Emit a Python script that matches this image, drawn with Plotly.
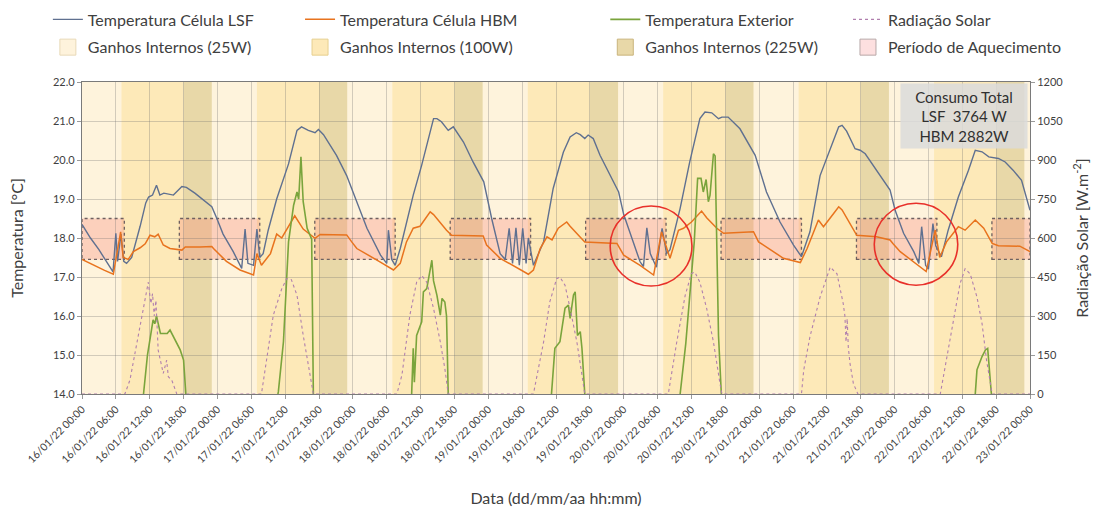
import pandas as pd
import plotly.graph_objects as go

START = pd.Timestamp("2022-01-16 00:00")
END = pd.Timestamp("2022-01-23 00:00")

# ---- data (hours since 16/01/22 00:00) ----
lsf_hours = [0, 1.5, 3, 4.5, 5.5, 6.0, 6.3, 6.9, 7.4, 7.9, 8.8, 10.3, 11.3, 11.8, 12.5, 13.2, 13.8, 14.5,
             15.6, 16.2, 17.7, 18.5, 20.0, 20.9, 22.2, 23.0, 23.9, 25.0, 26.8, 28.3, 28.9, 29.4, 30.4, 31.0,
             31.5, 32.1, 33.0, 34.5, 36.6, 38.1, 38.9, 40.1, 41.3, 41.9, 42.8, 45.1, 46.9, 48.7, 50.5, 52.9,
             54.0, 54.3, 54.9, 55.5, 56.4, 58.7, 60.2, 62.3, 62.9, 63.7, 64.9, 65.8, 67.6, 69.3, 71.2, 72.6,
             74.1, 75.0, 75.7, 76.3, 76.9, 77.5, 78.1, 78.7, 79.1, 80.0, 81.8, 83.5, 85.3, 86.5, 87.6, 88.3,
             89.1, 89.7, 90.6, 91.8, 93.6, 95.1, 96.0, 97.4, 98.9, 99.5, 100.1, 100.7, 101.5, 101.8, 102.8,
             103.6, 104.2, 106.0, 107.7, 109.5, 110.4, 111.6, 112.8, 113.4, 114.5, 116.6, 119.3, 121.3, 123.7,
             126.1, 127.5, 129.0, 130.8, 132.9, 134.1, 134.7, 135.5, 137.0, 137.9, 138.8, 140.8, 143.2, 144.1,
             145.6, 147.4, 148.3, 148.8, 149.5, 150.0, 150.8, 151.3, 152.3, 153.5, 155.3, 157.1, 158.3, 159.5,
             160.7, 162.4, 163.6, 165.0, 166.5, 168.0]
lsf_temp = [18.35, 18.0, 17.7, 17.35, 17.13, 18.12, 17.4, 18.1, 17.4, 17.35, 17.5, 18.3, 18.9, 19.05, 19.1,
            19.35, 19.1, 19.15, 19.12, 19.1, 19.32, 19.3, 19.15, 19.05, 18.9, 18.8, 18.5, 18.1, 17.65, 17.22,
            18.23, 17.35, 17.3, 18.23, 17.5, 17.6, 18.2, 19.0, 19.9, 20.76, 20.85, 20.76, 20.7, 20.78, 20.65,
            20.12, 19.6, 18.93, 18.25, 17.56, 17.35, 18.2, 17.45, 17.3, 17.73, 19.1, 19.87, 21.06, 21.06, 20.98,
            20.76, 20.85, 20.46, 19.95, 19.44, 18.5, 17.6, 17.45, 18.25, 17.35, 18.26, 17.3, 18.25, 17.35, 18.0,
            17.3, 17.9, 19.27, 20.2, 20.59, 20.7, 20.65, 20.55, 20.64, 20.55, 20.12, 19.6, 19.18, 18.6, 17.99,
            17.39, 17.27, 18.26, 17.6, 17.33, 17.25, 18.25, 17.6, 17.7, 18.76, 19.95, 21.06, 21.23, 21.21, 21.06,
            21.1, 21.1, 20.8, 20.12, 19.18, 18.41, 17.82, 17.52, 18.16, 19.6, 20.38, 20.85, 20.89, 20.74, 20.29,
            20.25, 20.16, 19.74, 19.23, 18.71, 18.12, 17.65, 17.35, 18.29, 17.3, 17.2, 18.37, 17.8, 17.52, 18.2,
            19.05, 19.74, 20.25, 20.21, 20.08, 20.04, 19.95, 19.74, 19.48, 18.71]

hbm_hours = [0, 2, 4, 5.55, 6.85, 7.3, 8.2, 9.1, 10.3, 11.2, 12.05, 12.9, 13.5, 14.4, 15.6, 17.7, 18.3, 20.9,
             23.0, 23.3, 25.6, 28.0, 30.4, 31.0, 31.8, 33.4, 34.5, 35.4, 37.7, 39.2, 40.4, 41.3, 42.2, 46.9,
             47.8, 48.7, 52.8, 55.2, 56.4, 57.5, 58.7, 59.9, 61.7, 62.3, 64.6, 65.5, 71.1, 71.7, 74.1, 76.4,
             79.1, 80.0, 81.2, 82.4, 83.3, 84.4, 85.9, 86.5, 89.1, 94.8, 96.0, 98.9, 101.3, 102.7, 104.2, 105.7,
             106.6, 108.0, 109.8, 110.7, 112.5, 113.7, 119.0, 119.9, 124.3, 127.3, 128.5, 130.5, 131.4, 133.2,
             134.1, 134.7, 137.3, 140.8, 143.2, 143.7, 145.0, 149.6, 151.2, 152.0, 153.2, 155.3, 156.5, 158.3,
             159.8, 161.3, 162.4, 166.2, 168.0]
hbm_temp = [17.45, 17.3, 17.17, 17.07, 18.16, 17.5, 17.45, 17.65, 17.75, 17.85, 18.07, 18.03, 18.1, 17.82,
            17.73, 17.69, 17.77, 17.77, 17.78, 17.73, 17.4, 17.18, 17.05, 17.6, 17.3, 17.6, 18.1, 18.0, 18.57,
            18.23, 18.09, 17.99, 18.09, 18.08, 17.9, 17.73, 17.39, 17.18, 17.35, 17.9, 18.25, 18.3, 18.67, 18.6,
            18.2, 18.07, 18.05, 17.82, 17.48, 17.3, 17.07, 17.18, 17.73, 18.03, 17.95, 18.25, 18.41, 18.3, 17.9,
            17.86, 17.56, 17.3, 17.05, 18.16, 17.48, 18.2, 18.25, 18.41, 18.69, 18.52, 18.25, 18.12, 18.16, 17.9,
            17.48, 17.37, 17.73, 18.46, 18.29, 18.63, 18.8, 18.72, 18.07, 18.03, 17.95, 17.86, 17.65, 17.14,
            18.2, 17.5, 17.9, 18.29, 18.2, 18.46, 18.25, 17.86, 17.8, 17.79, 17.65]

ext_hours = [0, 6, 10.0, 10.9, 11.6, 12.35, 12.6, 12.9, 13.2, 13.9, 15.1, 15.6, 16.2, 17.4, 18.0, 18.4, 19.5,
             24, 30, 33.5, 34.8, 35.7, 36.6, 37.5, 38.1, 38.4, 38.8, 39.2, 39.9, 40.4, 40.7, 41.0, 41.3, 48, 54,
             58.3, 58.7, 58.9, 59.3, 60.2, 60.5, 61.1, 61.7, 62.0, 62.3, 62.9, 63.5, 63.8, 64.3, 64.6, 64.9, 65.2,
             72, 78, 82.5, 83.2, 83.8, 84.7, 85.6, 86.2, 86.5, 87.1, 87.4, 87.8, 88.3, 88.6, 89.1, 89.5, 96, 102,
             105.5, 106.0, 107.0, 107.9, 108.5, 109.1, 109.7, 110.1, 110.6, 111.0, 111.3, 111.9, 112.2, 112.8,
             113.4, 113.8, 120, 130, 136, 144, 152, 157.5, 158.3, 158.6, 159.5, 160.1, 160.5, 160.9, 161.3, 162,
             168]
ext_temp = [12.0, 11.5, 13.0, 14.0, 15.0, 15.64, 15.9, 15.8, 16.0, 15.55, 15.55, 15.64, 15.47, 15.13, 14.87,
            14.0, 13.0, 12.0, 11.5, 13.0, 14.06, 15.34, 17.9, 18.84, 19.18, 19.0, 20.08, 18.93, 18.25, 18.1,
            17.97, 14.0, 12.5, 11.5, 11.0, 13.5, 15.17, 14.3, 15.5, 15.85, 16.62, 16.7, 17.13, 17.43, 16.9,
            16.53, 16.02, 16.45, 16.36, 16.0, 14.0, 12.5, 11.5, 11.0, 13.0, 14.0, 15.17, 15.34, 16.2, 16.28,
            15.94, 16.54, 16.62, 15.5, 15.6, 15.17, 14.0, 12.8, 11.8, 11.5, 13.0, 14.0, 15.3, 16.88, 17.9,
            19.53, 19.53, 19.18, 19.5, 18.93, 19.1, 20.16, 20.1, 15.5, 14.0, 12.5, 11.0, 12.0, 13.0, 11.5,
            11.0, 13.0, 14.0, 14.62, 14.96, 15.13, 15.17, 14.6, 14.0, 12.5, 11.5]

rad_hours = [0, 7.6, 8.5, 9.7, 10.9, 11.75, 12.2, 12.5, 12.8, 13.1, 13.5, 14.4, 15.0, 15.3, 15.9, 16.8,
             31.8, 32.7, 33.9, 35.4, 36.3, 37.1, 38.1, 39.2, 40.4, 41.0,
             55.8, 56.7, 58.1, 59.3, 60.2, 61.1, 62.3, 63.5, 64.3, 64.9,
             80.0, 81.8, 82.9, 84.1, 84.7, 85.6, 86.5, 87.7, 88.6, 89.1,
             103.9, 105.4, 106.9, 108.0, 108.6, 109.5, 110.7, 111.9, 113.1, 113.4,
             127.5, 127.9, 129.0, 130.8, 132.6, 133.8, 134.9, 135.2, 135.4, 135.6, 135.8, 136.1, 136.7, 137.5,
             152.1, 153.2, 154.4, 155.6, 156.5, 157.4, 158.6, 159.5, 160.3, 161.3, 168]
rad_wm2 = [0, 0, 54, 195, 322, 430, 348, 386, 300, 360, 169, 79, 130, 66, 54, 0,
           0, 137, 303, 405, 444, 440, 380, 226, 73, 0,
           0, 73, 303, 430, 456, 430, 329, 200, 98, 0,
           0, 200, 354, 443, 450, 418, 329, 200, 73, 0,
           0, 200, 380, 463, 469, 430, 329, 200, 35, 0,
           0, 92, 220, 373, 488, 462, 348, 300, 200, 290, 180, 118, 40, 0,
           0, 130, 271, 424, 482, 462, 373, 271, 130, 0, 0]

gain_labels = ["Ganhos Internos (25W)", "Ganhos Internos (100W)", "Ganhos Internos (225W)"]
gain_schedule = [(23, 7), (7, 18), (18, 23)]   # hour of day: start, end
heating_schedule = (17.25, 7.5)                 # hour of day: start, end
heating_band = (17.45, 18.5)                    # temperature band [°C]
consumo_lines = ["Consumo Total", "LSF  3764 W", "HBM 2882W"]
highlight_windows = [(93.6, 108.1, 16.77, 18.82), (140.4, 155.2, 16.79, 18.89)]

# ---- styles ----
FONT = "Lato"
TXT = "#404040"
C_LSF = "#5f7090"
C_HBM = "#e8731e"
C_EXT = "#7aa43c"
C_RAD = "#b07fae"
GAIN_COLORS = ["#fef3dc", "#fde9b8", "#e8d8a8"]
GAIN_EDGE = ["#e8d9b8", "#e6cf8f", "#c9b47c"]
HEAT_FILL = "rgba(248,130,115,0.30)"


def t(h):
    return START + pd.to_timedelta(h, unit="h")


def ts(h):
    return (START + pd.Timedelta(hours=h)).strftime("%Y-%m-%d %H:%M:%S")


fig = go.Figure()

fig.add_trace(go.Scatter(x=t(pd.Series(lsf_hours)), y=lsf_temp, mode="lines", name="Temperatura Célula LSF",
                         line=dict(color=C_LSF, width=1.4), legend="legend", legendgroup="a"))
fig.add_trace(go.Scatter(x=t(pd.Series(hbm_hours)), y=hbm_temp, mode="lines", name="Temperatura Célula HBM",
                         line=dict(color=C_HBM, width=1.5), legend="legend2", legendgroup="b"))
fig.add_trace(go.Scatter(x=t(pd.Series(ext_hours)), y=ext_temp, mode="lines", name="Temperatura Exterior",
                         line=dict(color=C_EXT, width=1.6), legend="legend3", legendgroup="c"))
fig.add_trace(go.Scatter(x=t(pd.Series(rad_hours)), y=rad_wm2, mode="lines", name="Radiação Solar",
                         line=dict(color=C_RAD, width=1.1, dash="dot"), yaxis="y2",
                         legend="legend4", legendgroup="d"))

# legend entries for the shaded areas
for i, (lab, col, edge) in enumerate(zip(gain_labels, GAIN_COLORS, GAIN_EDGE)):
    fig.add_trace(go.Scatter(x=[None], y=[None], mode="markers", name=lab,
                             marker=dict(symbol="square", size=18, color=col, line=dict(color=edge, width=1)),
                             legend=["legend", "legend2", "legend3"][i], legendgroup="g%d" % i))
fig.add_trace(go.Scatter(x=[None], y=[None], mode="markers", name="Período de Aquecimento",
                         marker=dict(symbol="square", size=18, color="#fde0e0",
                                     line=dict(color="#b8a8a8", width=1)),
                         legend="legend4", legendgroup="h"))

shapes = []
total_h = (END - START).total_seconds() / 3600
for day in range(-1, 8):
    for (s, e), col in zip(gain_schedule, GAIN_COLORS):
        a = day * 24 + s
        b = (day + 1) * 24 + e if e < s else day * 24 + e
        a, b = max(a, 0), min(b, total_h)
        if b > a:
            shapes.append(dict(type="rect", xref="x", yref="paper", x0=ts(a), x1=ts(b), y0=0, y1=1,
                               fillcolor=col, line=dict(width=0), layer="below"))
for day in range(-1, 8):
    a = day * 24 + heating_schedule[0]
    b = (day + 1) * 24 + heating_schedule[1]
    a, b = max(a, 0), min(b, total_h)
    if b > a:
        shapes.append(dict(type="rect", xref="x", yref="y", x0=ts(a), x1=ts(b),
                           y0=heating_band[0], y1=heating_band[1], fillcolor=HEAT_FILL,
                           line=dict(color="#6e6060", width=1.3, dash="dot"), layer="below"))
for (a, b, lo, hi) in highlight_windows:
    shapes.append(dict(type="circle", xref="x", yref="y", x0=ts(a), x1=ts(b), y0=lo, y1=hi,
                       line=dict(color="#e8302a", width=1.6), layer="above"))

fig.update_layout(
    width=1101, height=513,
    margin=dict(l=82, r=71, t=82, b=119, autoexpand=False),
    paper_bgcolor="white", plot_bgcolor="#fef3dc",
    font=dict(family=FONT, color=TXT, size=13),
    shapes=shapes,
    showlegend=True,
    xaxis=dict(type="date", range=[START, END], tick0=START, dtick=6 * 3600 * 1000,
               tickformat="%d/%m/%y %H:%M", tickangle=-45, tickfont=dict(size=10.5),
               showgrid=True, gridcolor="rgba(110,110,110,0.30)", gridwidth=1,
               showline=True, linecolor="#7a7a7a", linewidth=1.2, mirror=True,
               ticks="outside", ticklen=4, tickcolor="#9a9a9a",
               title=dict(text="Data (dd/mm/aa hh:mm)", font=dict(size=16), standoff=28)),
    yaxis=dict(range=[14, 22], dtick=1, tickformat=".1f", tickfont=dict(size=11),
               showgrid=True, gridcolor="rgba(110,110,110,0.30)", gridwidth=1, zeroline=False,
               showline=True, linecolor="#7a7a7a", linewidth=1.2, mirror=True,
               ticks="outside", ticklen=4, tickcolor="#9a9a9a",
               title=dict(text="Temperatura [°C]", font=dict(size=16), standoff=25)),
    yaxis2=dict(range=[0, 1200], dtick=150, overlaying="y", side="right", tickfont=dict(size=11),
                showgrid=False, zeroline=False, ticks="outside", ticklen=4, tickcolor="#9a9a9a",
                title=dict(text="Radiação Solar [W.m<sup>-2</sup>]", font=dict(size=16), standoff=14)),
    annotations=[dict(xref="paper", yref="paper", x=0.930, y=0.892, xanchor="center", yanchor="middle",
                      text="<br>".join(consumo_lines), showarrow=False, align="center",
                      font=dict(size=15, color="#303030"), bgcolor="rgba(218,218,218,0.85)",
                      width=124, height=62)],
)

leg_common = dict(orientation="v", yanchor="top", y=1.255, xanchor="left", bgcolor="rgba(0,0,0,0)",
                  font=dict(size=16, family=FONT, color=TXT), tracegroupgap=4, itemsizing="trace")
fig.update_layout(legend=dict(x=-0.036, **leg_common),
                  legend2=dict(x=0.230, **leg_common),
                  legend3=dict(x=0.552, **leg_common),
                  legend4=dict(x=0.808, **leg_common))

fig.write_html("out.html")
